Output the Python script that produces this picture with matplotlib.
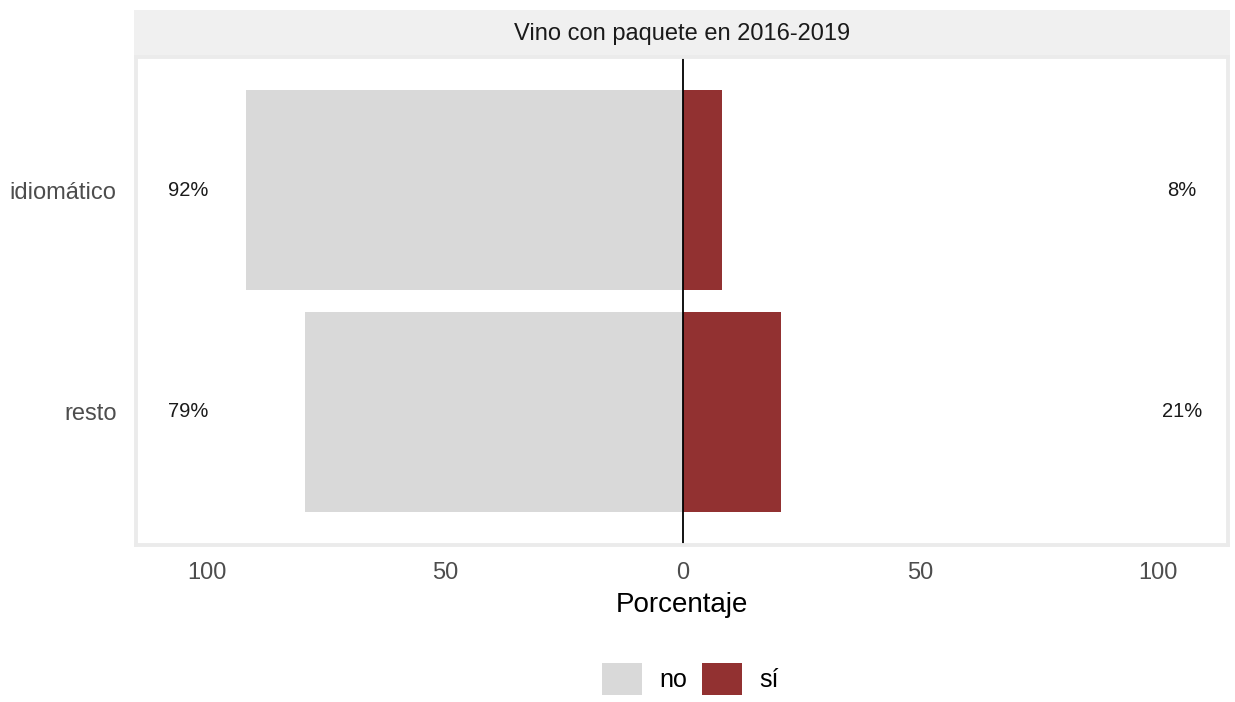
import matplotlib
matplotlib.use("Agg")
import matplotlib.pyplot as plt
from matplotlib.patches import Patch, Rectangle

# datos
categorias = ["idiomático", "resto"]
pct_no = [91.8, 79.4]
pct_si = [8.2, 20.6]
ticks = [-100, -50, 0, 50, 100]
tick_labels = ["100", "50", "0", "50", "100"]

titulo = "Vino con paquete en 2016-2019"
color_no = "#d9d9d9"
color_si = "#923131"

plt.rcParams["font.family"] = ["Liberation Sans", "DejaVu Sans"]

fig = plt.figure(figsize=(12.35, 7.02), dpi=100)
ax = fig.add_axes([0.110, 0.2236, 0.884, 0.6952])

ys = list(range(len(categorias)))
ax.barh(ys, [-v for v in pct_no], height=0.9, color=color_no)
ax.barh(ys, pct_si, height=0.9, color=color_si)
ax.axvline(0, color="black", lw=1.3)

for y, n, s in zip(ys, pct_no, pct_si):
    ax.text(-104, y, f"{n:.0f}%", ha="center", va="center", fontsize=14.5, color="#1a1a1a")
    ax.text(105, y, f"{s:.0f}%", ha="center", va="center", fontsize=14.5, color="#1a1a1a")

ax.set_xlim(-115, 114.6)
ax.set_ylim(len(categorias) - 0.4, -0.6)
ax.set_xticks(ticks, tick_labels)
ax.set_yticks(ys, categorias)
ax.tick_params(length=0, labelsize=17, labelcolor="#4d4d4d")
ax.tick_params(axis="x", pad=12)
ax.tick_params(axis="y", pad=14)
ax.set_xlabel("Porcentaje", fontsize=20, color="black", labelpad=6)

for sp in ax.spines.values():
    sp.set_color("#ebebeb")
    sp.set_linewidth(2.8)

# franja del titulo (estilo facet)
strip = Rectangle((-0.002, 1.0), 1.004, 0.0963, transform=ax.transAxes,
                  facecolor="#f0f0f0", edgecolor="none", clip_on=False)
ax.add_patch(strip)
ax.text(0.5, 1.048, titulo, transform=ax.transAxes, ha="center", va="center",
        fontsize=17, color="#1a1a1a")

handles = [Patch(facecolor=color_no, label="no"), Patch(facecolor=color_si, label="sí")]
fig.legend(handles=handles, loc="center", bbox_to_anchor=(0.559, 0.033), ncol=2,
           frameon=False, fontsize=18, handlelength=1.6, handleheight=1.6,
           handletextpad=0.7, columnspacing=0.6)

fig.savefig("out.png", dpi=100)
